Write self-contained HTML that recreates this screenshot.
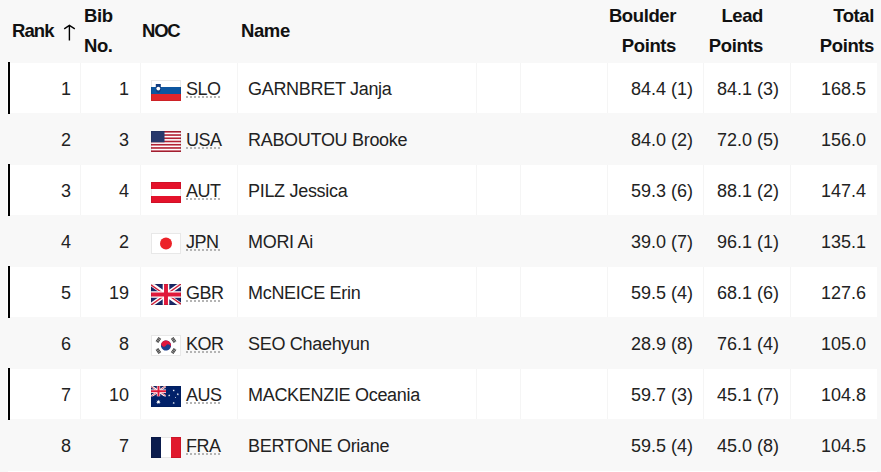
<!DOCTYPE html>
<html><head><meta charset="utf-8">
<style>
*{margin:0;padding:0;box-sizing:border-box}
html,body{width:881px;height:472px;overflow:hidden;background:#f8f8f8}
body{font-family:"Liberation Sans",sans-serif;color:#222;position:relative}
.h{position:absolute;font-weight:bold;font-size:18.5px;letter-spacing:-0.4px;line-height:30px;color:#111;white-space:nowrap}
.ra{text-align:right}
.r{position:absolute;left:0;width:881px;height:51px}
.bg{position:absolute;background:#fff;left:7px;top:1px;width:870px;height:50px}
.bar{position:absolute;left:8px;top:0;width:2px;height:52px;background:#000}
.sep{position:absolute;top:1px;width:1px;height:50px;background:#f5f5f5}
.t{position:absolute;top:2px;font-size:18px;letter-spacing:-0.5px;line-height:51px;white-space:nowrap}
.n{letter-spacing:0}
.nm{letter-spacing:-0.3px}
.fl{position:absolute;top:18px;width:30px;height:21px;display:block}
.fb{position:absolute;top:18px;width:30px;height:21px;border:1px solid rgba(0,0,0,0.09)}
.dots{position:absolute;top:34px;height:0;border-top:2px dotted #b4b4b4}
</style></head><body>
<div class="h" style="left:12px;top:15.5px;letter-spacing:-0.9px">Rank</div>
<svg style="position:absolute;left:60px;top:22px" width="20" height="22"><path d="M9.4,3.5 V18.4 M4.2,6.8 L9.4,3.3 L14.8,6.8" fill="none" stroke="#000" stroke-width="1.4"/></svg>
<div class="h" style="left:84px;top:0.6px">Bib<br>No.</div>
<div class="h" style="left:142px;top:15.5px;letter-spacing:-1.2px">NOC</div>
<div class="h" style="left:241px;top:15.5px">Name</div>
<div class="h ra" style="right:205px;top:0.6px">Boulder<br>Points</div>
<div class="h ra" style="right:118px;top:0.6px">Lead<br>Points</div>
<div class="h ra" style="right:7px;top:0.6px">Total<br>Points</div>

<div class="r" style="top:62px">
<div class="bg"></div><div class="bar"></div>
<div class="sep" style="left:80px"></div>
<div class="sep" style="left:140px"></div>
<div class="sep" style="left:237px"></div>
<div class="sep" style="left:476px"></div>
<div class="sep" style="left:520px"></div>
<div class="sep" style="left:607px"></div>
<div class="sep" style="left:703px"></div>
<div class="sep" style="left:790px"></div>
<div class="t n" style="left:-129px;width:200px;text-align:right">1</div>
<div class="t n" style="left:-71px;width:200px;text-align:right">1</div>
<svg class="fl" style="left:151px" viewBox="0 0 30 21" preserveAspectRatio="none"><rect width="30" height="21" fill="#fff"/><rect y="7" width="30" height="7" fill="#0d56a0"/><rect y="14" width="30" height="7" fill="#e2262b"/><path d="M4.8,4 h5 v5.5 q0,2.5 -2.5,3.5 q-2.5,-1 -2.5,-3.5 z" fill="#123d80"/><circle cx="7.3" cy="8.6" r="1.9" fill="#fff"/></svg>
<div class="fb" style="left:151px"></div>
<div class="t" style="left:186px">SLO</div>
<div class="dots" style="left:186px;width:34px"></div>
<div class="t nm" style="left:248px">GARNBRET Janja</div>
<div class="t n" style="left:493px;width:200px;text-align:right">84.4 (1)</div>
<div class="t n" style="left:579px;width:200px;text-align:right">84.1 (3)</div>
<div class="t n" style="left:666px;width:200px;text-align:right">168.5</div>
</div>
<div class="r" style="top:113px">
<div class="t n" style="left:-129px;width:200px;text-align:right">2</div>
<div class="t n" style="left:-71px;width:200px;text-align:right">3</div>
<svg class="fl" style="left:151px" viewBox="0 0 30 21" preserveAspectRatio="none"><rect width="30" height="21" fill="#fff"/><rect y="0.000" width="30" height="1.615" fill="#b22234"/><rect y="3.231" width="30" height="1.615" fill="#b22234"/><rect y="6.462" width="30" height="1.615" fill="#b22234"/><rect y="9.692" width="30" height="1.615" fill="#b22234"/><rect y="12.923" width="30" height="1.615" fill="#b22234"/><rect y="16.154" width="30" height="1.615" fill="#b22234"/><rect y="19.385" width="30" height="1.615" fill="#b22234"/><rect width="13.5" height="11.308" fill="#28396c"/></svg>
<div class="fb" style="left:151px"></div>
<div class="t" style="left:186px">USA</div>
<div class="dots" style="left:186px;width:34px"></div>
<div class="t nm" style="left:248px">RABOUTOU Brooke</div>
<div class="t n" style="left:493px;width:200px;text-align:right">84.0 (2)</div>
<div class="t n" style="left:579px;width:200px;text-align:right">72.0 (5)</div>
<div class="t n" style="left:666px;width:200px;text-align:right">156.0</div>
</div>
<div class="r" style="top:164px">
<div class="bg"></div><div class="bar"></div>
<div class="sep" style="left:80px"></div>
<div class="sep" style="left:140px"></div>
<div class="sep" style="left:237px"></div>
<div class="sep" style="left:476px"></div>
<div class="sep" style="left:520px"></div>
<div class="sep" style="left:607px"></div>
<div class="sep" style="left:703px"></div>
<div class="sep" style="left:790px"></div>
<div class="t n" style="left:-129px;width:200px;text-align:right">3</div>
<div class="t n" style="left:-71px;width:200px;text-align:right">4</div>
<svg class="fl" style="left:151px" viewBox="0 0 30 21" preserveAspectRatio="none"><rect width="30" height="21" fill="#fff"/><rect width="30" height="7" fill="#e4122b"/><rect y="14" width="30" height="7" fill="#e4122b"/></svg>
<div class="fb" style="left:151px"></div>
<div class="t" style="left:186px">AUT</div>
<div class="dots" style="left:186px;width:34px"></div>
<div class="t nm" style="left:248px">PILZ Jessica</div>
<div class="t n" style="left:493px;width:200px;text-align:right">59.3 (6)</div>
<div class="t n" style="left:579px;width:200px;text-align:right">88.1 (2)</div>
<div class="t n" style="left:666px;width:200px;text-align:right">147.4</div>
</div>
<div class="r" style="top:215px">
<div class="t n" style="left:-129px;width:200px;text-align:right">4</div>
<div class="t n" style="left:-71px;width:200px;text-align:right">2</div>
<svg class="fl" style="left:151px" viewBox="0 0 30 21" preserveAspectRatio="none"><rect width="30" height="21" fill="#fff"/><circle cx="15" cy="10.5" r="6" fill="#ec2228"/></svg>
<div class="fb" style="left:151px"></div>
<div class="t" style="left:186px">JPN</div>
<div class="dots" style="left:186px;width:34px"></div>
<div class="t nm" style="left:248px">MORI Ai</div>
<div class="t n" style="left:493px;width:200px;text-align:right">39.0 (7)</div>
<div class="t n" style="left:579px;width:200px;text-align:right">96.1 (1)</div>
<div class="t n" style="left:666px;width:200px;text-align:right">135.1</div>
</div>
<div class="r" style="top:266px">
<div class="bg"></div><div class="bar"></div>
<div class="sep" style="left:80px"></div>
<div class="sep" style="left:140px"></div>
<div class="sep" style="left:237px"></div>
<div class="sep" style="left:476px"></div>
<div class="sep" style="left:520px"></div>
<div class="sep" style="left:607px"></div>
<div class="sep" style="left:703px"></div>
<div class="sep" style="left:790px"></div>
<div class="t n" style="left:-129px;width:200px;text-align:right">5</div>
<div class="t n" style="left:-71px;width:200px;text-align:right">19</div>
<svg class="fl" style="left:151px" viewBox="0 0 30 21" preserveAspectRatio="none"><rect width="30" height="21" fill="#1a2766"/><path d="M0,0 L30,21 M30,0 L0,21" stroke="#fff" stroke-width="4.2"/><path d="M0,0.9 L14,10.7 M30,20.1 L16,10.3 M30,0 L16.4,9.6 M0,21 L13.6,11.4" stroke="#d41f3a" stroke-width="1.4"/><path d="M15,0 V21 M0,10.5 H30" stroke="#fff" stroke-width="6.6"/><path d="M15,0 V21 M0,10.5 H30" stroke="#e0193a" stroke-width="3.9"/></svg>
<div class="fb" style="left:151px"></div>
<div class="t" style="left:186px">GBR</div>
<div class="dots" style="left:186px;width:34px"></div>
<div class="t nm" style="left:248px">McNEICE Erin</div>
<div class="t n" style="left:493px;width:200px;text-align:right">59.5 (4)</div>
<div class="t n" style="left:579px;width:200px;text-align:right">68.1 (6)</div>
<div class="t n" style="left:666px;width:200px;text-align:right">127.6</div>
</div>
<div class="r" style="top:317px">
<div class="t n" style="left:-129px;width:200px;text-align:right">6</div>
<div class="t n" style="left:-71px;width:200px;text-align:right">8</div>
<svg class="fl" style="left:151px" viewBox="0 0 30 21" preserveAspectRatio="none"><rect width="30" height="21" fill="#fff"/><g transform="rotate(33.7 15 10.5)"><circle cx="15" cy="10.5" r="5.1" fill="#1d3f8e"/><path d="M9.9,10.5 A5.1,5.1 0 0 1 20.1,10.5 A2.55,2.55 0 0 0 15,10.5 A2.55,2.55 0 0 1 9.9,10.5Z" fill="#e0163e"/></g><g transform="translate(7.4,5) rotate(-56)"><rect x="-2.6" y="-1.6" width="5.2" height="0.9" fill="#3a3a3a"/><rect x="-2.6" y="-0.45" width="5.2" height="0.9" fill="#3a3a3a"/><rect x="-2.6" y="0.7" width="5.2" height="0.9" fill="#3a3a3a"/></g><g transform="translate(22.6,5) rotate(56)"><rect x="-2.6" y="-1.6" width="5.2" height="0.9" fill="#3a3a3a"/><rect x="-2.6" y="-0.45" width="5.2" height="0.9" fill="#3a3a3a"/><rect x="-2.6" y="0.7" width="5.2" height="0.9" fill="#3a3a3a"/></g><g transform="translate(7.4,16) rotate(56)"><rect x="-2.6" y="-1.6" width="5.2" height="0.9" fill="#3a3a3a"/><rect x="-2.6" y="-0.45" width="5.2" height="0.9" fill="#3a3a3a"/><rect x="-2.6" y="0.7" width="5.2" height="0.9" fill="#3a3a3a"/></g><g transform="translate(22.6,16) rotate(-56)"><rect x="-2.6" y="-1.6" width="5.2" height="0.9" fill="#3a3a3a"/><rect x="-2.6" y="-0.45" width="5.2" height="0.9" fill="#3a3a3a"/><rect x="-2.6" y="0.7" width="5.2" height="0.9" fill="#3a3a3a"/></g></svg>
<div class="fb" style="left:151px"></div>
<div class="t" style="left:186px">KOR</div>
<div class="dots" style="left:186px;width:34px"></div>
<div class="t nm" style="left:248px">SEO Chaehyun</div>
<div class="t n" style="left:493px;width:200px;text-align:right">28.9 (8)</div>
<div class="t n" style="left:579px;width:200px;text-align:right">76.1 (4)</div>
<div class="t n" style="left:666px;width:200px;text-align:right">105.0</div>
</div>
<div class="r" style="top:368px">
<div class="bg"></div><div class="bar"></div>
<div class="sep" style="left:80px"></div>
<div class="sep" style="left:140px"></div>
<div class="sep" style="left:237px"></div>
<div class="sep" style="left:476px"></div>
<div class="sep" style="left:520px"></div>
<div class="sep" style="left:607px"></div>
<div class="sep" style="left:703px"></div>
<div class="sep" style="left:790px"></div>
<div class="t n" style="left:-129px;width:200px;text-align:right">7</div>
<div class="t n" style="left:-71px;width:200px;text-align:right">10</div>
<svg class="fl" style="left:151px" viewBox="0 0 30 21" preserveAspectRatio="none"><rect width="30" height="21" fill="#012169"/><svg width="15" height="10.5" viewBox="0 0 30 21" preserveAspectRatio="none"><rect width="30" height="21" fill="#1a2766"/><path d="M0,0 L30,21 M30,0 L0,21" stroke="#fff" stroke-width="4.2"/><path d="M0,0.9 L14,10.7 M30,20.1 L16,10.3 M30,0 L16.4,9.6 M0,21 L13.6,11.4" stroke="#d41f3a" stroke-width="1.4"/><path d="M15,0 V21 M0,10.5 H30" stroke="#fff" stroke-width="6.6"/><path d="M15,0 V21 M0,10.5 H30" stroke="#e0193a" stroke-width="3.9"/></svg><polygon points="7.40,13.60 7.87,15.03 9.28,14.50 8.45,15.76 9.74,16.53 8.24,16.67 8.44,18.16 7.40,17.08 6.36,18.16 6.56,16.67 5.06,16.53 6.35,15.76 5.52,14.50 6.93,15.03" fill="#fff"/><polygon points="22.70,3.30 22.93,4.01 23.64,3.75 23.23,4.38 23.87,4.77 23.12,4.84 23.22,5.58 22.70,5.04 22.18,5.58 22.28,4.84 21.53,4.77 22.17,4.38 21.76,3.75 22.47,4.01" fill="#fff"/><polygon points="26.80,7.10 27.03,7.81 27.74,7.55 27.33,8.18 27.97,8.57 27.22,8.64 27.32,9.38 26.80,8.84 26.28,9.38 26.38,8.64 25.63,8.57 26.27,8.18 25.86,7.55 26.57,7.81" fill="#fff"/><polygon points="18.20,8.30 18.43,9.01 19.14,8.75 18.73,9.38 19.37,9.77 18.62,9.84 18.72,10.58 18.20,10.04 17.68,10.58 17.78,9.84 17.03,9.77 17.67,9.38 17.26,8.75 17.97,9.01" fill="#fff"/><polygon points="22.70,15.70 22.93,16.41 23.64,16.15 23.23,16.78 23.87,17.17 23.12,17.24 23.22,17.98 22.70,17.44 22.18,17.98 22.28,17.24 21.53,17.17 22.17,16.78 21.76,16.15 22.47,16.41" fill="#fff"/><polygon points="24.50,10.70 24.64,11.12 25.05,10.96 24.81,11.33 25.18,11.56 24.75,11.60 24.80,12.03 24.50,11.71 24.20,12.03 24.25,11.60 23.82,11.56 24.19,11.33 23.95,10.96 24.36,11.12" fill="#fff"/></svg>
<div class="fb" style="left:151px"></div>
<div class="t" style="left:186px">AUS</div>
<div class="dots" style="left:186px;width:34px"></div>
<div class="t nm" style="left:248px">MACKENZIE Oceania</div>
<div class="t n" style="left:493px;width:200px;text-align:right">59.7 (3)</div>
<div class="t n" style="left:579px;width:200px;text-align:right">45.1 (7)</div>
<div class="t n" style="left:666px;width:200px;text-align:right">104.8</div>
</div>
<div class="r" style="top:419px">
<div class="t n" style="left:-129px;width:200px;text-align:right">8</div>
<div class="t n" style="left:-71px;width:200px;text-align:right">7</div>
<svg class="fl" style="left:151px" viewBox="0 0 30 21" preserveAspectRatio="none"><rect width="10" height="21" fill="#0b1c4d"/><rect x="10" width="10" height="21" fill="#fff"/><rect x="20" width="10" height="21" fill="#e01a2e"/></svg>
<div class="fb" style="left:151px"></div>
<div class="t" style="left:186px">FRA</div>
<div class="dots" style="left:186px;width:34px"></div>
<div class="t nm" style="left:248px">BERTONE Oriane</div>
<div class="t n" style="left:493px;width:200px;text-align:right">59.5 (4)</div>
<div class="t n" style="left:579px;width:200px;text-align:right">45.0 (8)</div>
<div class="t n" style="left:666px;width:200px;text-align:right">104.5</div>
</div>
<div style="position:absolute;left:8px;top:471px;width:869px;height:1px;background:#fff"></div>
</body></html>
